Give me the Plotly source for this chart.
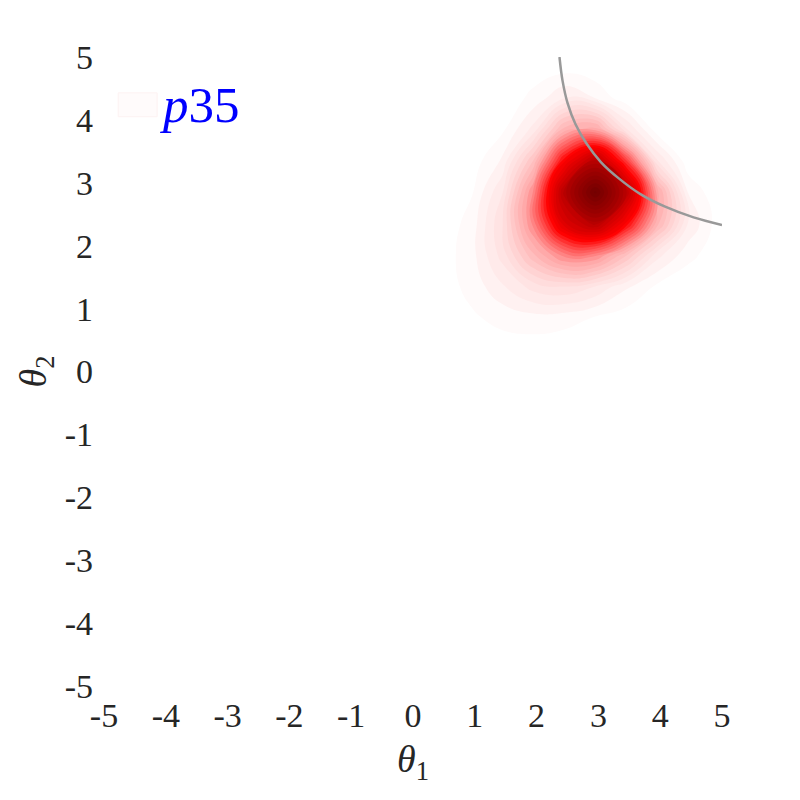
import plotly.graph_objects as go

# grid of the density (peak normalised to 1)
theta1_grid = [0.45, 0.95, 1.45, 1.95, 2.45, 2.95, 3.45, 3.95, 4.45, 4.95, 5.45]
theta2_grid = [0.35, 0.85, 1.35, 1.85, 2.35, 2.85, 3.35, 3.85, 4.35, 4.85, 5.35]
density = [
    [0.007, 0.011, 0.014, 0.013, 0.009, 0.004, 0.002, 0.0, 0.0, 0.0, 0.0],
    [0.011, 0.025, 0.040, 0.048, 0.042, 0.027, 0.012, 0.004, 0.001, 0.0, 0.0],
    [0.014, 0.040, 0.086, 0.133, 0.149, 0.119, 0.066, 0.024, 0.006, 0.002, 0.001],
    [0.013, 0.048, 0.133, 0.264, 0.374, 0.368, 0.243, 0.101, 0.040, 0.010, 0.001],
    [0.009, 0.042, 0.149, 0.374, 0.653, 0.766, 0.563, 0.283, 0.088, 0.013, 0.001],
    [0.004, 0.027, 0.119, 0.368, 0.766, 1.000, 0.757, 0.317, 0.059, 0.003, 0.0],
    [0.002, 0.012, 0.066, 0.243, 0.563, 0.757, 0.485, 0.124, 0.008, 0.0, 0.0],
    [0.0, 0.004, 0.024, 0.101, 0.283, 0.317, 0.124, 0.011, 0.0, 0.0, 0.0],
    [0.0, 0.001, 0.006, 0.040, 0.088, 0.059, 0.008, 0.0, 0.0, 0.0, 0.0],
    [0.0, 0.0, 0.002, 0.010, 0.013, 0.003, 0.0, 0.0, 0.0, 0.0, 0.0],
    [0.0, 0.0, 0.0, 0.001, 0.001, 0.0, 0.0, 0.0, 0.0, 0.0, 0.0],
]

# grey boundary curve
curve_x = [2.37, 2.42, 2.50, 2.63, 2.81, 3.04, 3.33, 3.68, 4.08, 4.54, 5.00]
curve_y = [5.00, 4.62, 4.27, 3.93, 3.62, 3.33, 3.07, 2.82, 2.62, 2.45, 2.33]

tick_vals = [-5, -4, -3, -2, -1, 0, 1, 2, 3, 4, 5]
tick_text = ["-5", "-4", "-3", "-2", "-1", "0", "1", "2", "3", "4", "5"]

serif = "Liberation Serif"

fig = go.Figure()

fig.add_trace(go.Contour(
    x=theta1_grid, y=theta2_grid, z=density,
    zmin=0, zmax=1,
    colorscale=[[0, "#ffffff"], [0.04, "#fff3f3"], [0.15, "#ffdada"],
                [0.3, "#ffa8a8"], [0.45, "#ff4a4a"], [0.55, "#ff0000"],
                [0.7, "#cc0000"], [0.85, "#9a0000"], [1, "#740000"]],
    contours=dict(start=0.03, end=1.0, size=0.03, coloring="fill"),
    line=dict(width=0, smoothing=1.3),
    showscale=False, showlegend=False, hoverinfo="skip",
))

fig.add_trace(go.Scatter(
    x=curve_x, y=curve_y, mode="lines",
    line=dict(color="#999999", width=2.5, shape="spline"),
    showlegend=False, hoverinfo="skip",
))

# legend: pale patch + label
fig.add_shape(type="rect", xref="paper", yref="paper",
              x0=0.023, x1=0.086, y0=0.905, y1=0.943,
              fillcolor="#fffbfb", line=dict(color="#fdf2f2", width=1))
fig.add_annotation(x=0.088, y=0.924, xref="paper", yref="paper",
                   xanchor="left", yanchor="middle", showarrow=False,
                   text="<i>p</i>35", font=dict(family=serif, size=51, color="blue"))

# page body has an 8px margin, so the figure is 792 wide/high
fig.update_layout(
    width=792, height=792,
    margin=dict(l=96, r=78, t=49, b=114),
    plot_bgcolor="white", paper_bgcolor="white",
    font=dict(family=serif, size=34, color="#262626"),
    showlegend=False,
)

fig.update_xaxes(
    range=[-5, 5], tickvals=tick_vals, ticktext=tick_text,
    showgrid=False, zeroline=False, showline=False, ticks="",
    ticklabelstandoff=6, automargin=False,
    title=dict(text="<i>θ</i><sub>1</sub>", font=dict(size=38), standoff=12),
)
fig.update_yaxes(
    range=[-5, 5], tickvals=tick_vals, ticktext=tick_text,
    showgrid=False, zeroline=False, showline=False, ticks="",
    ticklabelstandoff=10, automargin=False,
    title=dict(text="<i>θ</i><sub>2</sub>", font=dict(size=38), standoff=6),
)

fig.write_html("out.html")
